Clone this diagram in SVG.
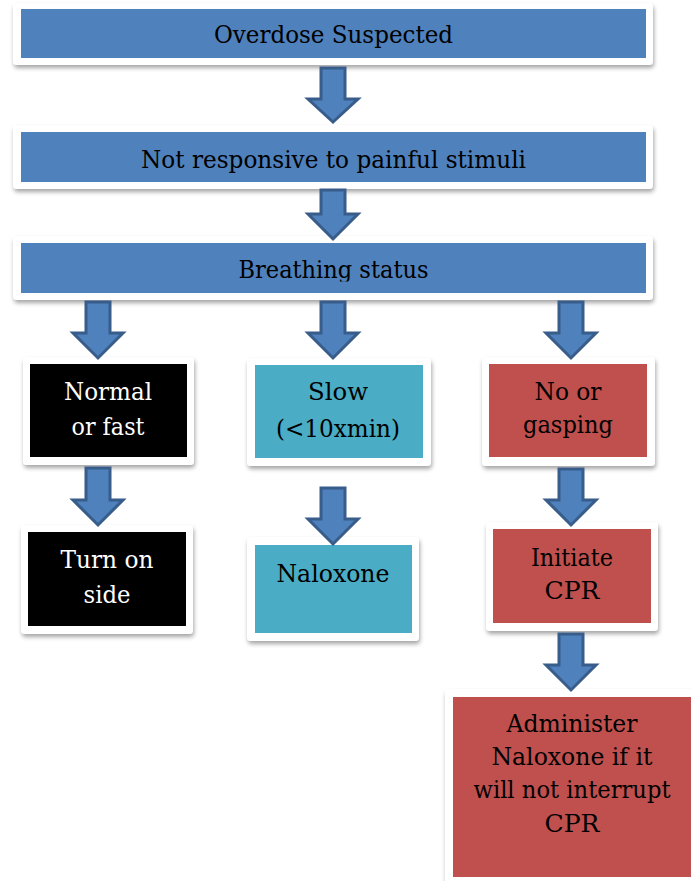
<svg xmlns="http://www.w3.org/2000/svg" width="691" height="881" viewBox="0 0 691 881">
<defs>
<filter id="sh" x="-10%" y="-10%" width="120%" height="130%">
<feDropShadow dx="1" dy="3" stdDeviation="2" flood-color="#000" flood-opacity="0.35"/>
</filter>
<clipPath id="c3"><rect x="0" y="236" width="691" height="45.5"/></clipPath>
</defs>
<style>
.frame{fill:#fff;filter:url(#sh)}
.blue{fill:#4F81BD}
.cyan{fill:#4BACC6}
.red{fill:#C0504D}
.blk{fill:#000}
text{font-family:'DejaVu Serif',serif;font-size:25px;text-anchor:middle;fill:#000}
text.w{fill:#fff}
.arr{fill:#4F81BD;stroke:#385D8A;stroke-width:3;stroke-linejoin:miter}
</style>
<rect width="691" height="881" fill="#fff"/>
<g id="n1"><rect class="frame" x="13" y="3" width="640" height="62" rx="4"/><rect class="blue" x="21" y="9" width="625" height="49"/><text x="333.5" y="43" textLength="239" lengthAdjust="spacingAndGlyphs">Overdose Suspected</text></g>
<g id="n2"><rect class="frame" x="13" y="125" width="640" height="64" rx="4"/><rect class="blue" x="21" y="132" width="625" height="50"/><text x="333.5" y="168" textLength="385" lengthAdjust="spacingAndGlyphs">Not responsive to painful stimuli</text></g>
<g id="n3"><rect class="frame" x="13" y="236" width="640" height="64" rx="4"/><rect class="blue" x="21" y="243" width="625" height="50"/><text x="333.5" y="278" clip-path="url(#c3)" textLength="190" lengthAdjust="spacingAndGlyphs">Breathing status</text></g>
<g id="n4"><rect class="frame" x="23" y="357" width="171" height="108" rx="4"/><rect class="blk" x="30" y="364" width="157" height="93"/><text class="w" x="108" y="400" textLength="88" lengthAdjust="spacingAndGlyphs">Normal</text><text class="w" x="108" y="435" textLength="73" lengthAdjust="spacingAndGlyphs">or fast</text></g>
<g id="n5"><rect class="frame" x="247" y="358" width="184" height="108" rx="4"/><rect class="cyan" x="255" y="365" width="168" height="93"/><text x="338" y="400" textLength="60" lengthAdjust="spacingAndGlyphs">Slow</text><text x="338" y="437" textLength="124" lengthAdjust="spacingAndGlyphs">(&lt;10xmin)</text></g>
<g id="n6"><rect class="frame" x="482" y="357" width="173" height="109" rx="4"/><rect class="red" x="489" y="364" width="158" height="93"/><text x="568" y="400" textLength="67" lengthAdjust="spacingAndGlyphs">No or</text><text x="568" y="433" textLength="90" lengthAdjust="spacingAndGlyphs">gasping</text></g>
<g id="n7"><rect class="frame" x="21" y="525" width="172" height="109" rx="4"/><rect class="blk" x="28" y="532" width="158" height="94"/><text class="w" x="107" y="568" textLength="93" lengthAdjust="spacingAndGlyphs">Turn on</text><text class="w" x="107" y="603" textLength="47" lengthAdjust="spacingAndGlyphs">side</text></g>
<g id="n8"><rect class="frame" x="247" y="537" width="172" height="104" rx="4"/><rect class="cyan" x="255" y="545" width="157" height="88"/><text x="333" y="582" textLength="113" lengthAdjust="spacingAndGlyphs">Naloxone</text></g>
<g id="n9"><rect class="frame" x="486" y="522" width="172" height="109" rx="4"/><rect class="red" x="493" y="529" width="158" height="94"/><text x="572" y="566" textLength="82" lengthAdjust="spacingAndGlyphs">Initiate</text><text x="572" y="599" textLength="55" lengthAdjust="spacingAndGlyphs">CPR</text></g>
<g id="n10"><rect class="frame" x="445" y="689" width="260" height="210" rx="4"/><rect class="red" x="453" y="697" width="240" height="180"/><text x="572" y="732" textLength="131" lengthAdjust="spacingAndGlyphs">Administer</text><text x="572" y="765" textLength="161" lengthAdjust="spacingAndGlyphs">Naloxone if it</text><text x="572" y="798" textLength="197" lengthAdjust="spacingAndGlyphs">will not interrupt</text><text x="572" y="832" textLength="55" lengthAdjust="spacingAndGlyphs">CPR</text></g>
<g id="connectors">
<path class="arr" d="M321,68H345V99H358L333,122L308,99H321Z"/>
<path class="arr" d="M321,190H345V214H358L333,239L308,214H321Z"/>
<path class="arr" d="M86,302H110V333H123L98,358L73,333H86Z"/>
<path class="arr" d="M321,302H345V333H358L333,358L308,333H321Z"/>
<path class="arr" d="M559,302H583V333H596L571,358L546,333H559Z"/>
<path class="arr" d="M86,468H110V500H123L98,525L73,500H86Z"/>
<path class="arr" d="M321,488H345V519H358L333,544L308,519H321Z"/>
<path class="arr" d="M559,469H583V500H596L571,525L546,500H559Z"/>
<path class="arr" d="M559,634H583V665H596L571,690L546,665H559Z"/>
</g>
</svg>
